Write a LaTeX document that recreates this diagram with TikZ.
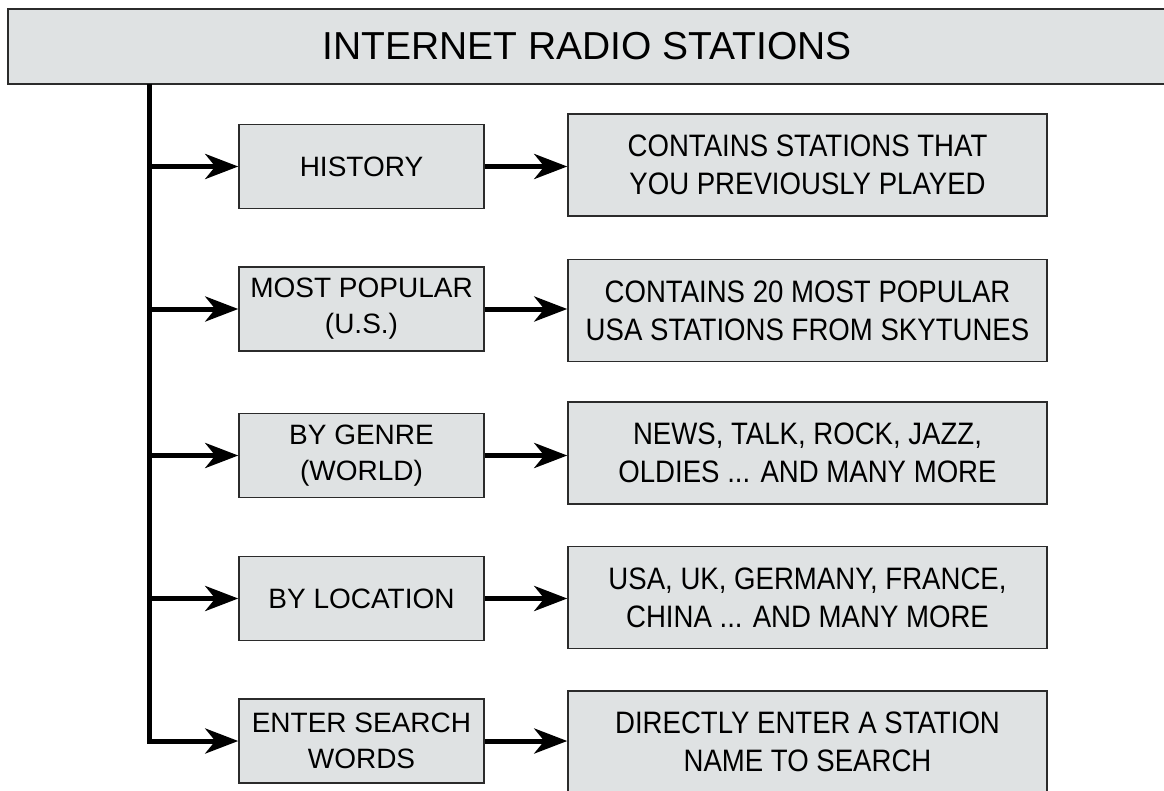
\documentclass[tikz,border=0pt]{standalone}
\usepackage{fontspec}
\setmainfont{Liberation Sans}
\newfontfamily\narrowfont[FakeStretch=0.89]{Liberation Sans}
\usetikzlibrary{arrows.meta}

\definecolor{boxgray}{HTML}{DFE2E3}
\definecolor{edgegray}{HTML}{2B2B2B}

\tikzset{
	titlebox/.style={rectangle, draw=edgegray, line width=1.8pt, fill=boxgray, minimum width=1158pt, minimum height=75pt, inner sep=0pt, font=\fontsize{39}{45}\selectfont},
	menubox/.style={rectangle, draw=edgegray, line width=1.5pt, fill=boxgray, minimum width=245pt, minimum height=84pt, inner sep=0pt, align=center, font=\fontsize{28}{36}\selectfont},
	infobox/.style={rectangle, draw=edgegray, line width=1.5pt, fill=boxgray, minimum width=479pt, minimum height=102pt, inner sep=0pt, align=center, font=\narrowfont\fontsize{31}{38}\selectfont},
	flow/.style={line width=5pt, -{Stealth[length=33pt, width=25pt, inset=10pt]}}
}

\begin{document}
\begin{tikzpicture}[x=1pt, y=-1pt]
			\useasboundingbox (0,0) rectangle (1164,790);
			
			\node[titlebox] (title) at (587,46.5) {INTERNET RADIO STATIONS};
			\coordinate (trunk) at (149,84);
			
			\node[menubox] (hist) at (361.5,166.5) {HISTORY};
			\node[menubox] (popular) at (361.5,309) {MOST POPULAR\\(U.S.)};
			\node[menubox] (genre) at (361.5,455.5) {BY GENRE\\(WORLD)};
			\node[menubox] (location) at (361.5,598.5) {BY LOCATION};
			\node[menubox] (search) at (361.5,741) {ENTER SEARCH\\WORDS};
			
			\node[infobox] (histinfo) at (807.5,165) {CONTAINS STATIONS THAT\\YOU PREVIOUSLY PLAYED};
			\node[infobox] (popularinfo) at (807.5,310.5) {CONTAINS 20 MOST POPULAR\\USA STATIONS FROM SKYTUNES};
			\node[infobox] (genreinfo) at (807.5,453) {NEWS, TALK, ROCK, JAZZ,\\OLDIES ... AND MANY MORE};
			\node[infobox] (locationinfo) at (807.5,597.5) {USA, UK, GERMANY, FRANCE,\\CHINA ... AND MANY MORE};
			\node[infobox] (searchinfo) at (807.5,742) {DIRECTLY ENTER A STATION\\NAME TO SEARCH};
			
			% trunk down the left side
			\draw[flow] (trunk) |- (search.west);
			\draw[flow] (trunk |- hist.west) -- (hist.west);
			\draw[flow] (trunk |- popular.west) -- (popular.west);
			\draw[flow] (trunk |- genre.west) -- (genre.west);
			\draw[flow] (trunk |- location.west) -- (location.west);
			
			\draw[flow] (hist.east) -- (hist.east -| histinfo.west);
			\draw[flow] (popular.east) -- (popular.east -| popularinfo.west);
			\draw[flow] (genre.east) -- (genre.east -| genreinfo.west);
			\draw[flow] (location.east) -- (location.east -| locationinfo.west);
			\draw[flow] (search.east) -- (search.east -| searchinfo.west);
			
		\end{tikzpicture}
\end{document}
